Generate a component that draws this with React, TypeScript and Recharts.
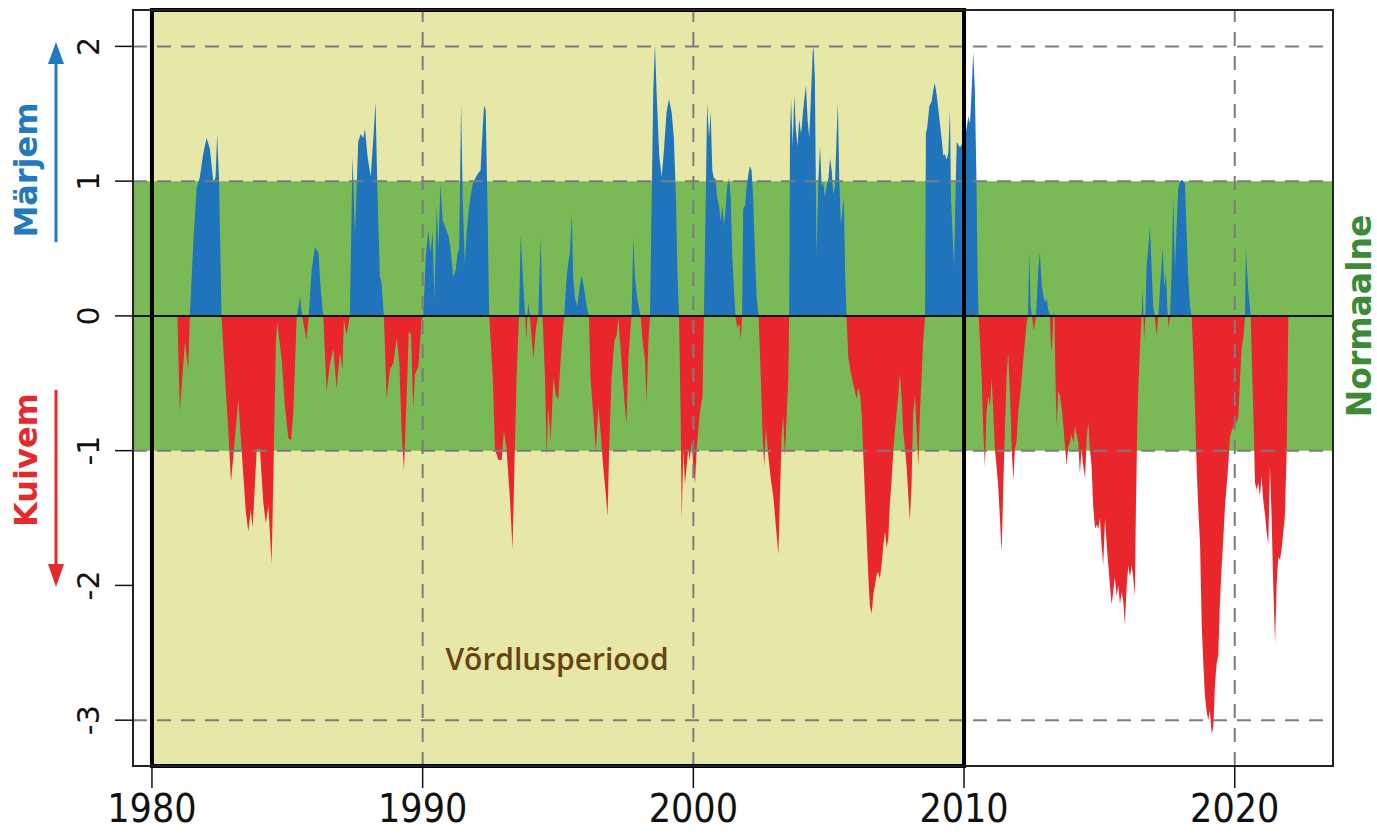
import React from 'react'
import { ComposedChart, Area, XAxis, YAxis, ReferenceArea, ReferenceLine } from 'recharts'

// axis setup
const xDomain = [1979.3, 2023.63]
const yDomain = [-3.34, 2.27]
const yearTicks = [1980, 1990, 2000, 2010, 2020]
const valueTicks = [-3, -2, -1, 0, 1, 2]
const dashedYears = [1990, 2000, 2020]
const dashedValues = [2, 1, -1, -3]
const normalBand = [-1, 1]
const referencePeriod = [1980, 2010]

// [year, index]
const spei: [number, number][] = [
  [1980.94, 0], [1981.03, -0.71], [1981.22, -0.19], [1981.34, -0.4], [1981.4, 0],
  [1981.53, 0.55], [1981.65, 0.95], [1981.77, 1.03], [1981.9, 1.21], [1982.02, 1.32], [1982.14, 1.24],
  [1982.27, 0.99], [1982.35, 1.03], [1982.41, 1.35], [1982.48, 1.0], [1982.57, 0],
  [1982.7, -0.46], [1982.82, -0.85], [1982.92, -1.23], [1983.03, -0.99], [1983.19, -0.62], [1983.31, -0.99],
  [1983.47, -1.46], [1983.56, -1.6], [1983.65, -1.44], [1983.72, -1.57], [1983.87, -0.99], [1983.99, -0.99],
  [1984.11, -1.38], [1984.21, -1.54], [1984.3, -1.41], [1984.42, -1.84], [1984.48, -1.25], [1984.58, -0.19],
  [1984.63, -0.05], [1984.79, -0.32], [1984.91, -0.67], [1985.04, -0.91], [1985.14, -0.92], [1985.22, -0.72],
  [1985.35, 0], [1985.47, 0.14], [1985.55, 0], [1985.71, -0.18], [1985.79, 0],
  [1985.9, 0.34], [1986.02, 0.51], [1986.15, 0.47], [1986.23, 0.21], [1986.33, 0],
  [1986.45, -0.56], [1986.58, -0.35], [1986.7, -0.24], [1986.82, -0.54], [1986.95, -0.27], [1987.04, -0.4],
  [1987.09, -0.03], [1987.19, -0.14], [1987.31, 0],
  [1987.41, 1.19], [1987.5, 0.6], [1987.62, 1.29], [1987.71, 1.35], [1987.81, 1.32], [1987.87, 1.39],
  [1987.96, 1.19], [1988.08, 1.03], [1988.18, 1.32], [1988.26, 1.59], [1988.32, 1.0], [1988.42, 0.29],
  [1988.48, 0.25], [1988.57, 0],
  [1988.67, -0.62], [1988.79, -0.4], [1988.92, -0.35], [1989.04, -0.16], [1989.14, -0.35], [1989.22, -0.85],
  [1989.31, -1.15], [1989.41, -0.59], [1989.49, -0.11], [1989.57, -0.14], [1989.65, -0.69], [1989.72, -0.43],
  [1989.84, -0.38], [1989.96, -0.03], [1990.02, 0],
  [1990.12, 0.45], [1990.21, 0.64], [1990.29, 0.47], [1990.37, 0.63], [1990.43, 0.13], [1990.52, 0.82],
  [1990.58, 0.5], [1990.66, 0.98], [1990.74, 0.71], [1990.83, 0.66], [1990.95, 0.6], [1991.03, 0.5],
  [1991.13, 0.29], [1991.22, 0.34], [1991.28, 0.45], [1991.35, 0.5], [1991.42, 1.57], [1991.48, 0.87],
  [1991.56, 0.39], [1991.63, 0.63], [1991.72, 0.82], [1991.85, 0.98], [1991.97, 1.03], [1992.06, 1.06],
  [1992.14, 1.08], [1992.22, 1.4], [1992.27, 1.56], [1992.33, 1.53], [1992.39, 0.87], [1992.46, 0],
  [1992.59, -0.46], [1992.67, -0.99], [1992.8, -1.07], [1992.92, -1.07], [1993.0, -0.85], [1993.1, -0.99],
  [1993.23, -1.38], [1993.32, -1.73], [1993.39, -1.12], [1993.47, -0.46], [1993.56, 0],
  [1993.62, 0.6], [1993.69, 0.34], [1993.76, 0.08], [1993.79, 0], [1993.83, -0.19], [1993.87, 0],
  [1993.9, 0.1], [1993.96, 0], [1994.09, -0.32], [1994.19, -0.08], [1994.27, 0], [1994.36, 0.58], [1994.43, 0],
  [1994.52, -0.46], [1994.58, -1.04], [1994.64, -0.67], [1994.73, -0.93], [1994.83, -0.46], [1994.92, -0.59],
  [1995.01, -0.62], [1995.1, -0.32], [1995.2, -0.06], [1995.23, 0],
  [1995.32, 0.29], [1995.38, 0.39], [1995.44, 0.47], [1995.51, 0.76], [1995.56, 0.29], [1995.63, 0.13],
  [1995.71, 0.07], [1995.81, 0.23], [1995.87, 0.3], [1995.96, 0.21], [1996.06, 0.07], [1996.14, 0],
  [1996.2, -0.46], [1996.3, -0.72], [1996.4, -1.01], [1996.49, -0.67], [1996.57, -0.85], [1996.67, -1.12],
  [1996.77, -1.33], [1996.83, -1.49], [1996.89, -0.99], [1996.98, -0.46], [1997.08, -0.19], [1997.17, -0.14],
  [1997.23, -0.01], [1997.29, -0.19], [1997.39, -0.46], [1997.47, -0.67], [1997.53, -0.8], [1997.6, -0.32],
  [1997.68, -0.08], [1997.72, 0],
  [1997.78, 0.58], [1997.84, 0.29], [1997.93, 0.13], [1998.0, 0.05], [1998.05, 0],
  [1998.13, -0.19], [1998.21, -0.32], [1998.27, -0.64], [1998.34, -0.19], [1998.4, 0],
  [1998.46, 0.87], [1998.52, 1.67], [1998.58, 2.02], [1998.64, 1.67], [1998.74, 1.19], [1998.83, 1.03],
  [1998.91, 1.22], [1999.01, 1.51], [1999.1, 1.61], [1999.2, 1.51], [1999.28, 1.32], [1999.36, 0.87],
  [1999.41, 0.34], [1999.47, 0],
  [1999.53, -0.72], [1999.57, -1.52], [1999.63, -0.99], [1999.69, -1.25], [1999.75, -1.12], [1999.81, -0.99],
  [1999.87, -1.07], [1999.94, -0.93], [2000.0, -1.12], [2000.06, -1.25], [2000.12, -0.99], [2000.24, -0.72],
  [2000.34, -0.59], [2000.39, 0],
  [2000.47, 1.02], [2000.51, 1.58], [2000.58, 1.32], [2000.64, 1.52], [2000.7, 1.08], [2000.76, 1.02],
  [2000.82, 1.02], [2000.88, 0.88], [2000.95, 0.82], [2001.01, 0.7], [2001.07, 0.82], [2001.13, 0.67],
  [2001.19, 0.79], [2001.25, 0.96], [2001.32, 1.02], [2001.38, 0.88], [2001.44, 0.44], [2001.5, 0.2],
  [2001.56, 0], [2001.62, -0.09], [2001.7, -0.06], [2001.75, -0.18], [2001.8, 0],
  [2001.84, 0.79], [2001.91, 0.82], [2001.97, 0.96], [2002.03, 1.05], [2002.09, 1.11], [2002.15, 1.08],
  [2002.21, 0.88], [2002.28, 0.44], [2002.34, 0.14], [2002.41, 0],
  [2002.49, -0.45], [2002.56, -0.89], [2002.62, -1.12], [2002.68, -0.83], [2002.77, -1.04], [2002.86, -1.21],
  [2002.95, -1.33], [2003.05, -1.56], [2003.14, -1.77], [2003.2, -1.33], [2003.26, -0.89], [2003.32, -0.74],
  [2003.38, -1.04], [2003.45, -0.74], [2003.51, -0.45], [2003.54, 0],
  [2003.57, 1.32], [2003.61, 1.61], [2003.67, 1.26], [2003.73, 1.64], [2003.79, 1.38], [2003.85, 1.26],
  [2003.91, 1.46], [2003.98, 1.35], [2004.04, 1.49], [2004.1, 1.61], [2004.16, 1.71], [2004.22, 1.46],
  [2004.28, 1.32], [2004.34, 1.61], [2004.41, 1.96], [2004.44, 2.0], [2004.49, 1.76], [2004.55, 0.44],
  [2004.62, 1.02], [2004.68, 1.26], [2004.74, 0.96], [2004.8, 0.99], [2004.86, 0.88], [2004.92, 0.96],
  [2004.99, 1.02], [2005.05, 1.17], [2005.11, 1.08], [2005.17, 0.9], [2005.23, 0.96], [2005.29, 1.32],
  [2005.34, 1.58], [2005.39, 1.02], [2005.45, 0.67], [2005.51, 0.79], [2005.56, 0.88], [2005.61, 0.29],
  [2005.66, 0],
  [2005.72, -0.3], [2005.79, -0.39], [2005.85, -0.45], [2005.91, -0.51], [2005.97, -0.56], [2006.03, -0.62],
  [2006.09, -0.53], [2006.16, -0.59], [2006.22, -0.74], [2006.28, -1.04], [2006.34, -1.33], [2006.4, -1.62],
  [2006.46, -1.92], [2006.52, -2.15], [2006.59, -2.21], [2006.65, -2.06], [2006.71, -2.0], [2006.77, -1.92],
  [2006.83, -1.9], [2006.89, -1.95], [2006.95, -1.85], [2007.02, -1.7], [2007.08, -1.6], [2007.14, -1.72],
  [2007.2, -1.65], [2007.26, -1.39], [2007.32, -1.23], [2007.39, -0.99], [2007.45, -0.85], [2007.51, -0.72],
  [2007.57, -0.59], [2007.63, -0.43], [2007.69, -0.59], [2007.75, -0.85], [2007.82, -0.99], [2007.88, -1.12],
  [2007.94, -1.33], [2008.0, -1.52], [2008.06, -1.25], [2008.12, -0.72], [2008.19, -0.59], [2008.25, -0.85],
  [2008.31, -1.12], [2008.37, -0.72], [2008.43, -0.46], [2008.49, -0.19], [2008.56, 0],
  [2008.59, 1.35], [2008.64, 1.4], [2008.72, 1.56], [2008.8, 1.59], [2008.86, 1.67], [2008.92, 1.73],
  [2008.99, 1.64], [2009.05, 1.53], [2009.11, 1.43], [2009.17, 1.32], [2009.23, 1.19], [2009.29, 1.2],
  [2009.36, 1.16], [2009.42, 1.21], [2009.48, 1.53], [2009.52, 0.87], [2009.58, 0.6], [2009.63, 0.37],
  [2009.68, 0.87], [2009.73, 1.29], [2009.79, 1.27], [2009.85, 1.25], [2009.91, 1.27], [2009.97, 1.29],
  [2010.03, 1.32], [2010.1, 1.4], [2010.16, 1.48], [2010.22, 1.43], [2010.28, 1.67], [2010.34, 1.96],
  [2010.4, 1.67], [2010.46, 1.0], [2010.5, 0.34], [2010.54, 0],
  [2010.59, -0.19], [2010.65, -0.46], [2010.71, -0.85], [2010.77, -1.12], [2010.83, -0.72], [2010.9, -0.59],
  [2010.96, -0.67], [2011.02, -0.46], [2011.08, -0.72], [2011.14, -0.99], [2011.2, -1.12], [2011.26, -1.25],
  [2011.33, -1.52], [2011.39, -1.76], [2011.45, -1.25], [2011.51, -0.85], [2011.57, -0.46], [2011.63, -0.27],
  [2011.7, -0.59], [2011.76, -0.99], [2011.82, -1.22], [2011.88, -0.99], [2011.94, -0.93], [2012.0, -0.72],
  [2012.07, -0.59], [2012.13, -0.46], [2012.19, -0.32], [2012.25, -0.19], [2012.31, -0.06], [2012.36, 0],
  [2012.41, 0.47], [2012.46, 0.07], [2012.51, 0], [2012.58, -0.11], [2012.66, 0],
  [2012.74, 0.34], [2012.8, 0.47], [2012.87, 0.23], [2012.93, 0.15], [2012.99, 0.1], [2013.05, 0.13],
  [2013.11, 0.05], [2013.17, 0], [2013.2, -0.19], [2013.24, -0.27], [2013.3, 0], [2013.32, 0.04], [2013.34, 0],
  [2013.38, -0.5], [2013.42, -0.82], [2013.48, -0.56], [2013.54, -0.59], [2013.6, -0.67], [2013.67, -0.82],
  [2013.73, -0.97], [2013.79, -1.11], [2013.85, -0.97], [2013.91, -0.94], [2013.97, -0.88], [2014.04, -0.94],
  [2014.1, -0.82], [2014.16, -0.88], [2014.22, -0.94], [2014.28, -1.17], [2014.34, -0.99], [2014.4, -1.11],
  [2014.47, -1.2], [2014.53, -0.91], [2014.59, -0.79], [2014.65, -0.99], [2014.71, -1.11], [2014.77, -1.41],
  [2014.84, -1.58], [2014.9, -1.55], [2014.96, -1.58], [2015.02, -1.5], [2015.08, -1.7], [2015.14, -1.85],
  [2015.21, -1.5], [2015.27, -1.7], [2015.33, -1.85], [2015.39, -2.0], [2015.45, -2.14], [2015.51, -2.05],
  [2015.57, -1.94], [2015.64, -2.08], [2015.7, -2.0], [2015.76, -2.14], [2015.82, -2.05], [2015.88, -2.11],
  [2015.94, -2.29], [2016.01, -2.0], [2016.07, -1.85], [2016.13, -1.94], [2016.19, -1.85], [2016.25, -1.94],
  [2016.31, -2.08], [2016.35, -1.41], [2016.4, -0.82], [2016.44, -0.53], [2016.5, -0.23], [2016.56, 0],
  [2016.6, 0.2], [2016.63, 0], [2016.65, -0.18], [2016.7, 0], [2016.74, 0.35], [2016.87, 0.66],
  [2016.93, 0.35], [2016.99, 0.06], [2017.05, 0], [2017.11, -0.15], [2017.18, 0], [2017.24, 0.21],
  [2017.34, 0.5], [2017.4, 0.21], [2017.46, 0.32], [2017.51, 0.06], [2017.53, 0], [2017.55, -0.09], [2017.61, 0],
  [2017.67, 0.35], [2017.73, 0.88], [2017.79, 0.35], [2017.85, 0.65], [2017.91, 0.94], [2017.98, 1.0],
  [2018.04, 1.01], [2018.1, 1.0], [2018.16, 0.98], [2018.22, 0.65], [2018.28, 0.29], [2018.35, 0.06],
  [2018.41, 0],
  [2018.47, -0.29], [2018.53, -0.67], [2018.59, -1.11], [2018.65, -1.41], [2018.72, -1.7], [2018.78, -2.29],
  [2018.84, -2.58], [2018.9, -2.82], [2018.96, -2.93], [2019.02, -3.0], [2019.08, -2.93], [2019.15, -3.1],
  [2019.21, -3.05], [2019.27, -2.73], [2019.33, -2.58], [2019.39, -2.52], [2019.45, -2.14], [2019.52, -1.85],
  [2019.58, -1.64], [2019.64, -1.41], [2019.7, -1.26], [2019.76, -1.11], [2019.82, -0.9], [2019.89, -0.85],
  [2019.95, -0.82], [2020.01, -0.8], [2020.07, -0.79], [2020.13, -0.75], [2020.19, -0.5], [2020.25, -0.25],
  [2020.32, -0.16], [2020.38, 0],
  [2020.41, 0.5], [2020.5, 0.19], [2020.59, 0],
  [2020.62, -0.25], [2020.69, -0.75], [2020.75, -1.24], [2020.81, -1.29], [2020.87, -1.24], [2020.93, -1.34],
  [2020.99, -1.19], [2021.05, -1.36], [2021.12, -1.48], [2021.18, -1.61], [2021.24, -1.69], [2021.3, -1.12],
  [2021.36, -1.48], [2021.42, -1.98], [2021.49, -2.43], [2021.55, -1.98], [2021.61, -1.79], [2021.67, -1.81],
  [2021.73, -1.73], [2021.79, -1.61], [2021.85, -1.49], [2021.92, -1.0], [2021.98, 0],
]

const BLUE = '#1f74bb'
const RED = '#e8262b'
const GREEN = '#79ba56'
const YELLOW = '#e7e8a7'
const GRID = '#7c7c7c'

const data = spei.map(([year, value]) => ({ year, value }))
const vals = spei.map((d) => d[1])
const maxV = Math.max(...vals)
const minV = Math.min(...vals)
const zeroOffset = maxV / (maxV - minV)

const sideFont = "'DejaVu Sans', sans-serif"

function YTick(props: any) {
  const { y, payload } = props
  return (
    <text
      transform={`translate(88, ${y}) rotate(-90)`}
      textAnchor="middle"
      dominantBaseline="central"
      fontFamily={sideFont}
      fontSize={30}
      fill="#111"
    >
      {payload.value}
    </text>
  )
}

function XTick(props: any) {
  const { x, payload } = props
  return (
    <text
      x={x}
      y={808}
      textAnchor="middle"
      dominantBaseline="central"
      fontFamily="'Liberation Sans Narrow', 'DejaVu Sans Condensed', sans-serif"
      fontSize={39}
      fill="#111"
    >
      {payload.value}
    </text>
  )
}

export default function App() {
  return (
    <div style={{ position: 'absolute', left: 0, top: 0, width: 1377, height: 835, background: '#fff' }}>
      <ComposedChart
        width={1377}
        height={835}
        data={data}
        margin={{ top: 10, right: 44, bottom: 0, left: 73 }}
      >
        <defs>
          <linearGradient id="speiFill" x1="0" y1="0" x2="0" y2="1">
            <stop offset={zeroOffset} stopColor={BLUE} />
            <stop offset={zeroOffset} stopColor={RED} />
          </linearGradient>
        </defs>
        <XAxis
          dataKey="year"
          type="number"
          domain={xDomain}
          allowDataOverflow
          ticks={yearTicks}
          interval={0}
          height={69}
          axisLine={false}
          tickSize={22}
          tickLine={{ stroke: '#111', strokeWidth: 1.5 }}
          tick={<XTick />}
        />
        <YAxis
          type="number"
          domain={yDomain}
          allowDataOverflow
          ticks={valueTicks}
          interval={0}
          width={60}
          axisLine={false}
          tickSize={18}
          tickLine={{ stroke: '#111', strokeWidth: 1.5 }}
          tick={<YTick />}
        />
        <ReferenceArea
          x1={referencePeriod[0]}
          x2={referencePeriod[1]}
          fill={YELLOW}
          fillOpacity={1}
          stroke="none"
          zIndex={1}
        />
        <ReferenceArea
          y1={normalBand[0]}
          y2={normalBand[1]}
          fill={GREEN}
          fillOpacity={1}
          stroke="none"
          zIndex={2}
        />
        <Area
          dataKey="value"
          type="linear"
          baseValue={0}
          stroke="none"
          fill="url(#speiFill)"
          fillOpacity={1}
          dot={false}
          activeDot={false}
          isAnimationActive={false}
          zIndex={3}
        />
        {dashedValues.map((v) => (
          <ReferenceLine key={'h' + v} y={v} stroke={GRID} strokeWidth={2} strokeDasharray="14 10" zIndex={4} />
        ))}
        {dashedYears.map((yr) => (
          <ReferenceLine key={'v' + yr} x={yr} stroke={GRID} strokeWidth={2} strokeDasharray="14 10" zIndex={4} />
        ))}
        <ReferenceLine y={0} stroke="#111" strokeWidth={2} zIndex={5} />
        <ReferenceArea
          x1={referencePeriod[0]}
          x2={referencePeriod[1]}
          fill="none"
          stroke="#000"
          strokeWidth={4}
          zIndex={6}
        />
        <ReferenceArea
          x1={xDomain[0]}
          x2={xDomain[1]}
          fill="none"
          stroke="#222"
          strokeWidth={2}
          zIndex={7}
        />
      </ComposedChart>
      <svg
        width={1377}
        height={835}
        style={{ position: 'absolute', left: 0, top: 0, pointerEvents: 'none' }}
      >
        <text
          transform="translate(26, 170) rotate(-90)"
          textAnchor="middle"
          dominantBaseline="central"
          fontFamily={sideFont}
          fontWeight="bold"
          fontSize={32}
          fill="#2279c0"
        >
          Märjem
        </text>
        <line x1={56} y1={242} x2={56} y2={60} stroke="#2279c0" strokeWidth={3} />
        <polygon points="56,42 48,64 64,64" fill="#2279c0" />
        <text
          transform="translate(26, 460) rotate(-90)"
          textAnchor="middle"
          dominantBaseline="central"
          fontFamily={sideFont}
          fontWeight="bold"
          fontSize={32}
          fill="#e42a2c"
        >
          Kuivem
        </text>
        <line x1={56} y1={390} x2={56} y2={568} stroke="#e42a2c" strokeWidth={3} />
        <polygon points="56,587 48,564 64,564" fill="#e42a2c" />
        <text
          transform="translate(1359, 316) rotate(-90)"
          textAnchor="middle"
          dominantBaseline="central"
          fontFamily={sideFont}
          fontWeight="bold"
          fontSize={33}
          fill="#3c8a35"
        >
          Normaalne
        </text>
        <text
          x={557}
          y={658}
          textAnchor="middle"
          dominantBaseline="central"
          fontFamily="'Open Sans', 'DejaVu Sans', sans-serif"
          fontWeight={600}
          fontSize={30}
          fill="#654412"
        >
          Võrdlusperiood
        </text>
      </svg>
    </div>
  )
}
